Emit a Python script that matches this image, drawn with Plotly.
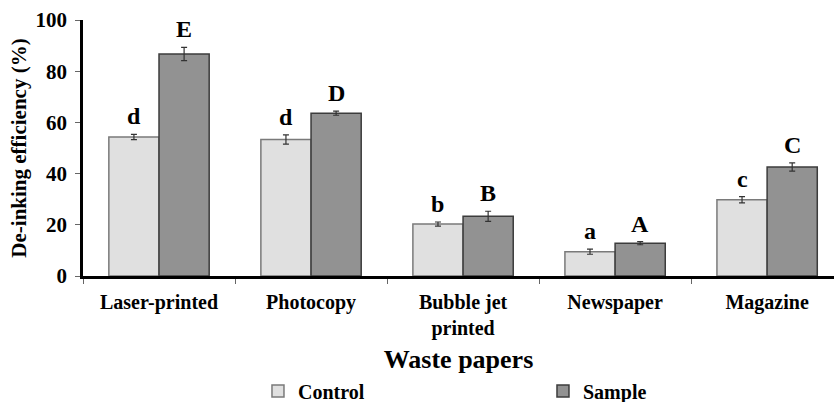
import plotly.graph_objects as go

categories = ["Laser-printed", "Photocopy", "Bubble jet<br>printed", "Newspaper", "Magazine"]
control = [54.3, 53.3, 20.3, 9.5, 29.8]
control_err = [1.0, 1.8, 0.8, 1.0, 1.2]
sample = [86.7, 63.6, 23.3, 12.8, 42.6]
sample_err = [2.6, 0.8, 2.0, 0.6, 1.6]
control_letters = ["d", "d", "b", "a", "c"]
sample_letters = ["E", "D", "B", "A", "C"]
y_ticks = [0, 20, 40, 60, 80, 100]

FONT = "Liberation Serif"

fig = go.Figure()
fig.add_trace(go.Bar(
    name="Control", x=categories, y=control,
    marker=dict(color="#e0e0e0", line=dict(color="#7a7a7a", width=1.5)),
    error_y=dict(type="data", array=control_err, color="#333333", thickness=1.2, width=3),
))
fig.add_trace(go.Bar(
    name="Sample", x=categories, y=sample,
    marker=dict(color="#929292", line=dict(color="#3c3c3c", width=1.5)),
    error_y=dict(type="data", array=sample_err, color="#333333", thickness=1.2, width=3),
))

annotations = []
for i in range(len(categories)):
    annotations.append(dict(x=i - 0.165, y=control[i] + control_err[i], xref="x", yref="y",
                            text=control_letters[i], showarrow=False, yanchor="bottom", yshift=3,
                            font=dict(family=FONT, size=24, color="black", weight="bold")))
    annotations.append(dict(x=i + 0.165, y=sample[i] + sample_err[i], xref="x", yref="y",
                            text=sample_letters[i], showarrow=False, yanchor="bottom", yshift=3,
                            font=dict(family=FONT, size=24, color="black", weight="bold")))

fig.update_layout(
    width=834, height=402,
    margin=dict(l=83, r=0, t=20, b=126, autoexpand=False),
    paper_bgcolor="white", plot_bgcolor="white",
    barmode="group", bargap=0.34, bargroupgap=0,
    font=dict(family=FONT, color="black", weight="bold"),
    annotations=annotations,
    showlegend=True,
    legend=dict(orientation="h", x=0.233, y=-0.373, xanchor="left", yanchor="top",
                entrywidth=240, entrywidthmode="pixels",
                font=dict(family=FONT, size=20, color="black", weight="bold"),
                itemwidth=30, bgcolor="rgba(0,0,0,0)"),
)
fig.update_xaxes(
    range=[-0.5, 4.44], showline=True, linecolor="black", linewidth=2.5,
    ticks="outside", tickson="boundaries", ticklen=5, tickcolor="#666666",
    ticklabelstandoff=6,
    tickfont=dict(family=FONT, size=20, color="black", weight="bold"),
    title=dict(text="Waste papers", font=dict(family=FONT, size=26, color="black", weight="bold"), standoff=12),
    showgrid=False, zeroline=False, automargin=False,
)
fig.update_yaxes(
    range=[0, 100], tickvals=y_ticks, showline=True, linecolor="black", linewidth=2.5,
    ticks="outside", ticklen=5, tickcolor="#666666",
    ticklabelstandoff=4,
    tickfont=dict(family=FONT, size=21, color="black", weight="bold"),
    title=dict(text="De-inking efficiency (%)", font=dict(family=FONT, size=21, color="black", weight="bold"), standoff=4),
    showgrid=False, zeroline=False, automargin=False,
)

fig.write_html("out.html", config={"displayModeBar": False},
               post_script="document.body.style.margin='0';")
